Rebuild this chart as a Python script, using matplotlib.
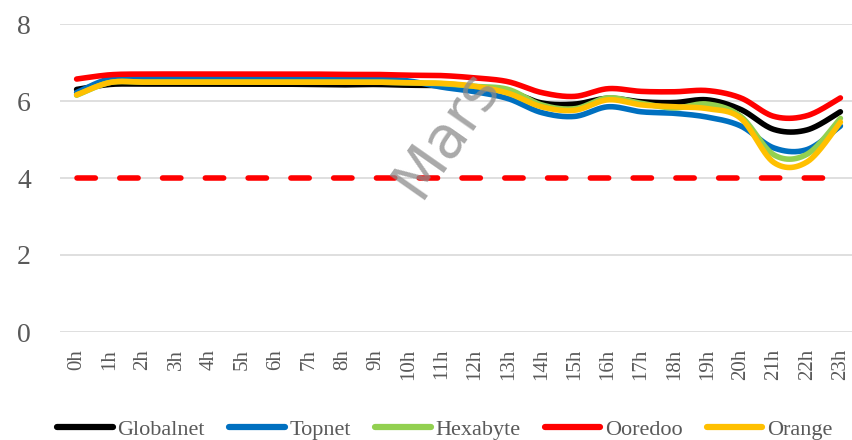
import numpy as np
import matplotlib
matplotlib.use("Agg")
import matplotlib.pyplot as plt

hours = ["0h", "1h", "2h", "3h", "4h", "5h", "6h", "7h", "8h", "9h", "10h", "11h",
         "12h", "13h", "14h", "15h", "16h", "17h", "18h", "19h", "20h", "21h", "22h", "23h"]

globalnet = [6.30, 6.43, 6.44, 6.44, 6.44, 6.44, 6.44, 6.43, 6.42, 6.43, 6.41, 6.40,
             6.34, 6.25, 5.95, 5.92, 6.07, 5.98, 5.96, 6.03, 5.78, 5.26, 5.25, 5.72]
topnet = [6.22, 6.58, 6.60, 6.60, 6.60, 6.60, 6.60, 6.60, 6.59, 6.58, 6.52, 6.36,
          6.24, 6.06, 5.70, 5.60, 5.85, 5.72, 5.68, 5.58, 5.35, 4.78, 4.74, 5.35]
hexabyte = [6.15, 6.48, 6.49, 6.49, 6.49, 6.49, 6.49, 6.49, 6.49, 6.49, 6.47, 6.45,
            6.38, 6.30, 5.90, 5.80, 6.08, 5.94, 5.82, 5.92, 5.60, 4.60, 4.62, 5.55]
ooredoo = [6.57, 6.68, 6.70, 6.70, 6.70, 6.70, 6.70, 6.70, 6.69, 6.69, 6.67, 6.66,
           6.60, 6.50, 6.22, 6.12, 6.32, 6.25, 6.24, 6.27, 6.08, 5.60, 5.62, 6.08]
orange = [6.16, 6.48, 6.49, 6.49, 6.49, 6.49, 6.49, 6.49, 6.49, 6.49, 6.47, 6.46,
          6.38, 6.20, 5.85, 5.76, 6.03, 5.90, 5.85, 5.80, 5.55, 4.40, 4.42, 5.45]
threshold = 4

series = [("Globalnet", globalnet, "#000000"),
          ("Topnet", topnet, "#0070C0"),
          ("Hexabyte", hexabyte, "#92D050"),
          ("Ooredoo", ooredoo, "#FF0000"),
          ("Orange", orange, "#FFC000")]


def smooth(x, y, n=30):
    x = np.asarray(x, float)
    y = np.asarray(y, float)
    P = np.column_stack([x, y])
    Pe = np.vstack([P[0], P, P[-1]])
    out = []
    for i in range(len(P) - 1):
        p0, p1, p2, p3 = Pe[i], Pe[i + 1], Pe[i + 2], Pe[i + 3]
        c1 = p1 + (p2 - p0) / 6.0
        c2 = p2 - (p3 - p1) / 6.0
        t = np.linspace(0, 1, n, endpoint=(i == len(P) - 2))[:, None]
        b = ((1 - t) ** 3) * p1 + 3 * ((1 - t) ** 2) * t * c1 + 3 * (1 - t) * t ** 2 * c2 + t ** 3 * p2
        out.append(b)
    out = np.vstack(out)
    return out[:, 0], out[:, 1]


fig = plt.figure(figsize=(8.52, 4.40), dpi=100)
fig.patch.set_facecolor("white")
L, R = 60 / 852, 857 / 852
T, B = 24 / 440, 332 / 440
ax = fig.add_axes([L, 1 - B, R - L, B - T])
ax.set_facecolor("none")

x = np.arange(len(hours))
ax.set_xlim(-0.5, 23.5)
ax.set_ylim(0, 8)
ax.set_yticks([0, 2, 4, 6, 8])
ax.set_xticks(x)
ax.set_xticklabels(hours, rotation=90, fontsize=15, color="#595959", family="Liberation Serif")
ax.set_yticklabels(["0", "2", "4", "6", "8"], fontsize=20, color="#595959", family="Liberation Serif")
ax.tick_params(axis="y", length=0, pad=21)
ax.tick_params(axis="x", length=0, pad=12)
for s in ax.spines.values():
    s.set_visible(False)
ax.grid(axis="y", color="#D9D9D9", linewidth=1.2)
ax.set_axisbelow(True)

ax.plot(x, [threshold] * len(x), color="#FF0000", linewidth=4,
        dashes=(3.3, 4.4), dash_capstyle="round", zorder=2)

for name, vals, col in series:
    sx, sy = smooth(x, vals)
    ax.plot(sx, sy, color=col, linewidth=4, solid_capstyle="round", label=name, zorder=3)

fig.text(446 / 852, 1 - 133 / 440, "Mars", rotation=55, fontsize=42, color="#8C8C8C",
         alpha=0.75, ha="center", va="center", family="DejaVu Sans", zorder=10)

leg = fig.legend(loc="lower center", bbox_to_anchor=(0.522, -0.045), ncol=5, frameon=False,
                 prop={"family": "Liberation Serif", "size": 16}, handlelength=2.5,
                 handletextpad=0.2, columnspacing=1.1)
for t in leg.get_texts():
    t.set_color("#595959")
for h in leg.get_lines():
    h.set_linewidth(4.5)
    h.set_solid_capstyle("round")

fig.savefig("out.png", dpi=100)
